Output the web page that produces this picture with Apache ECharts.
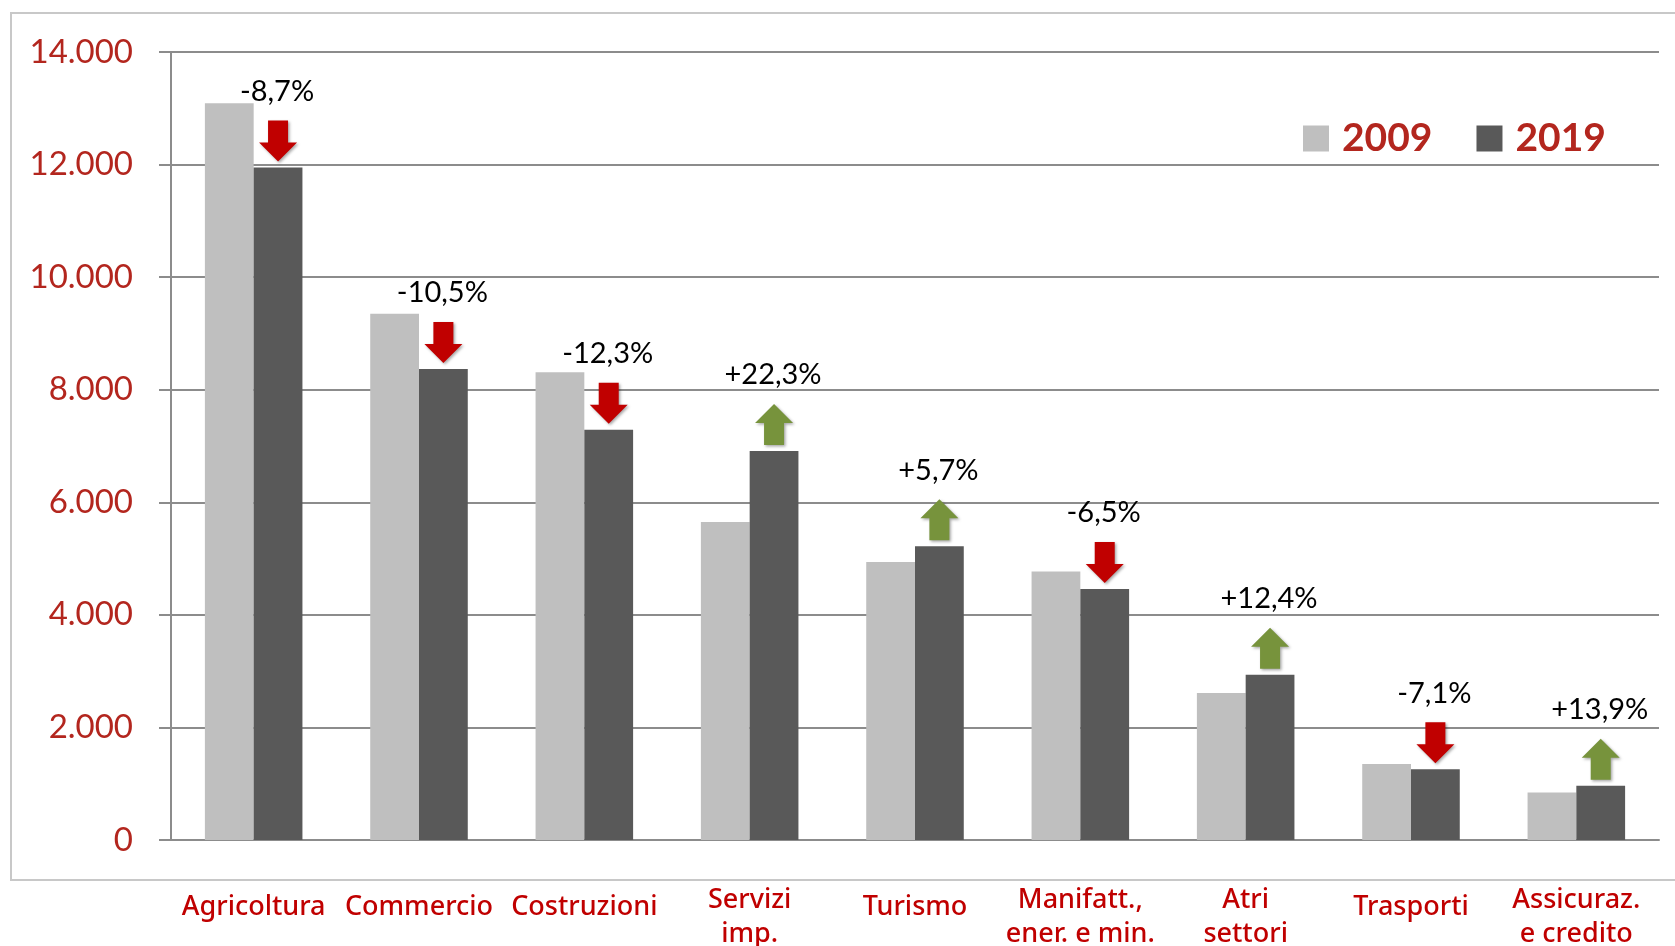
<!DOCTYPE html>
<html>
<head>
<meta charset="utf-8">
<script src="https://cdn.jsdelivr.net/npm/echarts@6/dist/echarts.min.js"></script>
<style>
html,body{margin:0;padding:0;background:#fff;}
#chart{width:1675px;height:946px;}
</style>
</head>
<body>
<div id="chart"></div>
<script>
const categories = ['Agricoltura', 'Commercio', 'Costruzioni', 'Servizi\nimp.', 'Turismo', 'Manifatt.,\nener. e min.', 'Atri\nsettori', 'Trasporti', 'Assicuraz.\ne credito'];
const values2009 = [13090, 9350, 8310, 5650, 4940, 4770, 2610, 1350, 845];
const values2019 = [11950, 8370, 7290, 6910, 5220, 4460, 2935, 1255, 963];
const changePct = [-8.7, -10.5, -12.3, 22.3, 5.7, -6.5, 12.4, -7.1, 13.9];
const yTicks = { min: 0, max: 14000, interval: 2000 };

const BAR_GAP_CAT = 0.41;
const RED = '#c00000';
const GREEN = '#77933c';

function fmtThousands(v) {
  return String(v).replace(/\B(?=(\d{3})+(?!\d))/g, '.');
}
function fmtPct(p) {
  const s = Math.abs(p).toFixed(1).replace('.', ',');
  return (p < 0 ? '-' : '+') + s + '%';
}

const arrowData = categories.map((c, i) => [i, values2019[i], changePct[i]]);

const chart = echarts.init(document.getElementById('chart'));
chart.setOption({
  animation: false,
  backgroundColor: '#ffffff',
  graphic: [{
    type: 'rect',
    shape: { x: 11, y: 13, width: 1700, height: 867 },
    style: { fill: 'none', stroke: '#c8c8c8', lineWidth: 2 },
    z: -10, silent: true
  }],
  grid: { left: 171, right: 16, top: 52, bottom: 106, containLabel: false, outerBoundsMode: 'none' },
  legend: {
    data: ['2009', '2019'],
    left: 1298, top: 114,
    itemWidth: 26, itemHeight: 26, itemGap: 44,
    icon: 'rect',
    textStyle: { color: '#b3261e', fontFamily: 'Lato', fontWeight: 'bold', fontSize: 39, padding: [0, 0, 0, 8] }
  },
  xAxis: {
    type: 'category',
    data: categories,
    axisLine: { show: true, lineStyle: { color: '#8c8c8c', width: 2 } },
    axisTick: { show: false },
    axisLabel: {
      interval: 0,
      margin: 43,
      color: RED,
      fontFamily: 'Noto Sans',
      fontSize: 27,
      formatter: function (v) {
        if (v.indexOf('\n') < 0) return '{s|' + v + '}';
        return v.split('\n').map(t => '{t|' + t + '}').join('\n');
      },
      rich: {
        s: { color: RED, fontFamily: 'Noto Sans', fontWeight: 500, fontSize: 27, lineHeight: 48 },
        t: { color: RED, fontFamily: 'Noto Sans', fontWeight: 500, fontSize: 27, lineHeight: 34 }
      }
    }
  },
  yAxis: {
    type: 'value',
    min: yTicks.min, max: yTicks.max, interval: yTicks.interval,
    axisLine: { show: true, lineStyle: { color: '#8c8c8c', width: 2 } },
    axisTick: { show: true, length: 12, lineStyle: { color: '#8c8c8c', width: 2 } },
    splitLine: { show: true, lineStyle: { color: '#8c8c8c', width: 2 } },
    axisLabel: {
      margin: 38,
      color: '#b3261e',
      fontFamily: 'Lato',
      fontSize: 33,
      formatter: fmtThousands
    }
  },
  series: [
    {
      name: '2009', type: 'bar', data: values2009,
      barGap: '0%', barCategoryGap: (BAR_GAP_CAT * 100) + '%',
      itemStyle: { color: '#bfbfbf' }
    },
    {
      name: '2019', type: 'bar', data: values2019,
      barGap: '0%', barCategoryGap: (BAR_GAP_CAT * 100) + '%',
      itemStyle: { color: '#595959' }
    },
    {
      name: 'arrows', type: 'custom', clip: false, z: 10,
      data: arrowData,
      renderItem: function (params, api) {
        const idx = api.value(0);
        const val = api.value(1);
        const pct = api.value(2);
        const pt = api.coord([idx, val]);
        const bandW = api.size([1, 0])[0];
        const barW = bandW * (1 - BAR_GAP_CAT) / 2;
        const cx = pt[0] + barW / 2;
        const top = pt[1];
        const aw = 38, ah = 41, sw = 20, headH = 19;
        const yb = top - 6;      // arrow bottom
        const yt = yb - ah;      // arrow top
        let pts;
        if (pct < 0) {
          pts = [[cx - sw / 2, yt], [cx + sw / 2, yt], [cx + sw / 2, yb - headH], [cx + aw / 2, yb - headH],
                 [cx, yb], [cx - aw / 2, yb - headH], [cx - sw / 2, yb - headH]];
        } else {
          pts = [[cx, yt], [cx + aw / 2, yt + headH], [cx + sw / 2, yt + headH], [cx + sw / 2, yb],
                 [cx - sw / 2, yb], [cx - sw / 2, yt + headH], [cx - aw / 2, yt + headH]];
        }
        return {
          type: 'group',
          children: [
            {
              type: 'polygon',
              shape: { points: pts },
              style: {
                fill: pct < 0 ? RED : GREEN,
                shadowBlur: 3, shadowColor: 'rgba(0,0,0,0.35)', shadowOffsetX: 1.5, shadowOffsetY: 1.5
              }
            },
            {
              type: 'text',
              style: {
                text: fmtPct(pct),
                x: cx - 1, y: top - 76,
                align: 'center', verticalAlign: 'middle',
                fill: '#000', fontFamily: 'Lato', fontSize: 29
              }
            }
          ]
        };
      }
    }
  ]
});
</script>
</body>
</html>
